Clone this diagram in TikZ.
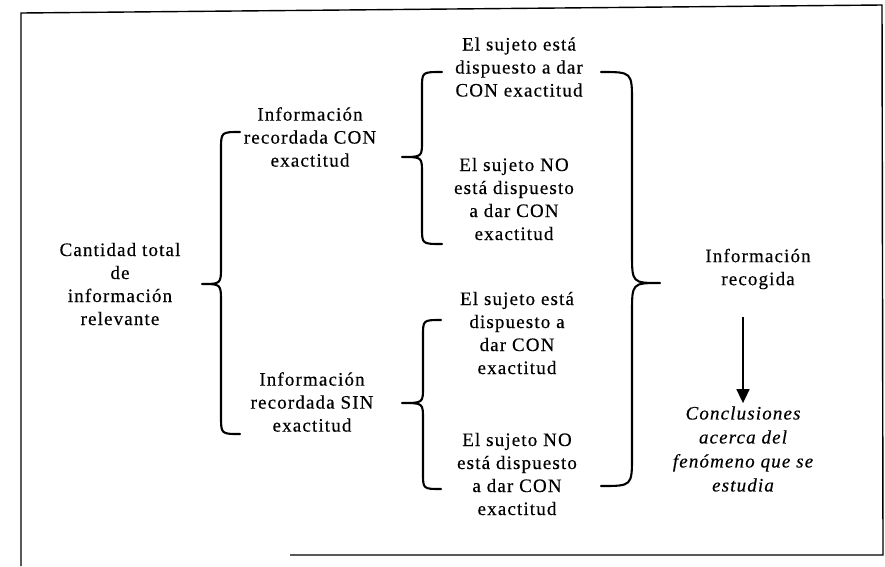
\documentclass[tikz,border=0pt]{standalone}
\usepackage{fontspec}
\usetikzlibrary{arrows.meta}
\newfontfamily\diagfont{Liberation Serif}[LetterSpace=6,FakeBold=0.4]

% curly brace: #1 x of the stem, #2 top y, #3 x of the end hooks,
% #4 x of the tip, #5 y of the tip, #6 bottom y, #7 bend size
\newcommand{\curlybrace}[7]{%
  \draw[bracestyle] (#3,#2) .. controls (#1,#2) .. (#1,#2+#7)
    -- (#1,#5-#7) .. controls (#1,#5) .. (#4,#5)
    .. controls (#1,#5) .. (#1,#5+#7)
    -- (#1,#6-#7) .. controls (#1,#6) .. (#3,#6);}

\begin{document}
\begin{tikzpicture}[x=1pt,y=-1pt,
  label/.style={align=center, inner sep=0pt, font=\diagfont\fontsize{19}{23}\selectfont},
  bracestyle/.style={line width=2.1pt, line cap=round, line join=round},
  framestyle/.style={line width=1.4pt},
  flow/.style={line width=1.6pt, -{Triangle[width=13pt,length=14pt]}}]
\useasboundingbox (0,0) rectangle (885,566);

% outer frame
\draw[framestyle] (21,566) -- (21,13) -- (882,5) -- (883,555) -- (290,555);

% text blocks
\node[label] (total) at (120,284) {Cantidad total\\de\\información\\relevante};
\node[label] (recCon) at (310,137) {Información\\recordada CON\\exactitud};
\node[label] (recSin) at (312,402) {Información\\recordada SIN\\exactitud};
\node[label] (conSi) at (519,67) {El sujeto está\\dispuesto a dar\\CON exactitud};
\node[label] (conNo) at (514,199) {El sujeto NO\\está dispuesto\\a dar CON\\exactitud};
\node[label] (sinSi) at (517,333) {El sujeto está\\dispuesto a\\dar CON\\exactitud};
\node[label] (sinNo) at (517,474) {El sujeto NO\\está dispuesto\\a dar CON\\exactitud};
\node[label] (recogida) at (758,269) {Información\\recogida};
\node[label, font=\diagfont\itshape\fontsize{19}{24}\selectfont] (concl) at (743,449)
  {Conclusiones\\acerca del\\fenómeno que se\\estudia};

% braces
\curlybrace{221}{132}{240}{202}{284}{434}{18}
\curlybrace{422}{72}{442}{402}{157}{244}{16}
\curlybrace{423}{320}{441}{402}{403}{489}{16}
\curlybrace{632}{72}{601}{660}{283}{486}{30}

% from collected information to conclusions
\draw[flow, shorten <=28pt, shorten >=3pt] (recogida.south -| concl.north) -- (concl.north);
\end{tikzpicture}
\end{document}
